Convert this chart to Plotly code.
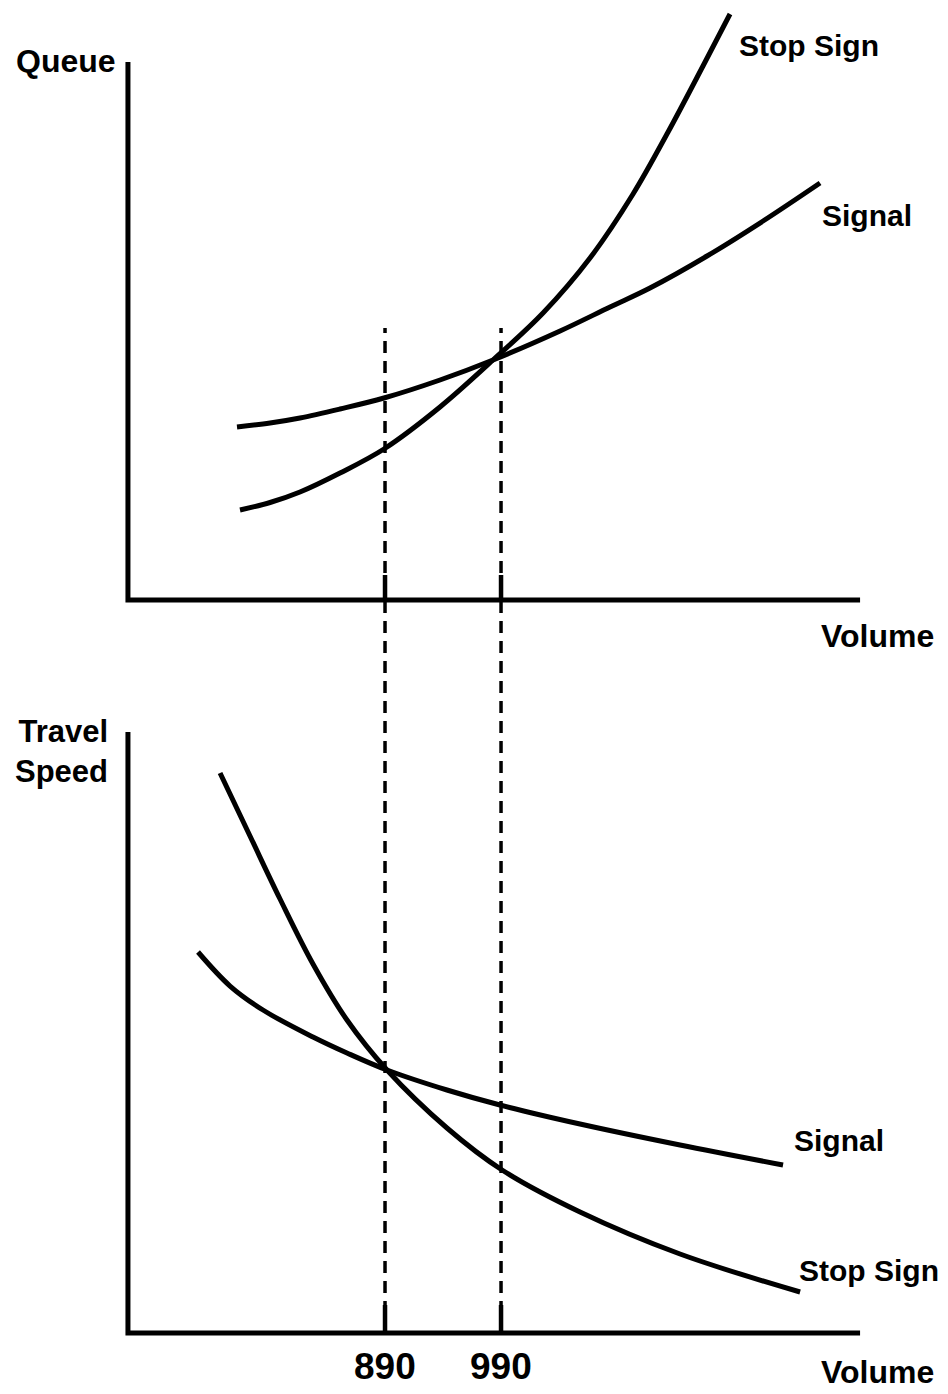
import plotly.graph_objects as go

# ---- data (schematic values) ----
# Top panel: Queue vs Volume
q_stop_vol = [765.0, 790.9, 816.7, 851.2, 889.1, 937.4, 983.1, 1026.2, 1066.7, 1103.8, 1134.0, 1164.1, 1187.4]
q_stop_val = [9.0, 9.75, 10.8, 12.7, 15.1, 19.3, 24.0, 28.7, 34.2, 40.6, 46.8, 53.4, 58.6]
q_sig_vol = [762.4, 790.9, 816.7, 851.2, 889.1, 937.4, 983.1, 1040.9, 1084.0, 1118.4, 1167.6, 1215.9, 1265.0]
q_sig_val = [17.3, 17.7, 18.2, 19.1, 20.2, 22.0, 24.0, 26.9, 29.3, 31.2, 34.4, 37.9, 41.7]

# Bottom panel: Travel speed vs Volume
s_stop_vol = [747.8, 773.6, 799.5, 827.9, 857.2, 891.7, 943.4, 990.9, 1058.1, 1144.3, 1247.8]
s_stop_val = [56.0, 49.7, 43.4, 36.9, 31.3, 26.3, 20.5, 16.3, 12.1, 7.9, 4.1]
s_sig_vol = [728.8, 756.4, 784.8, 827.9, 857.2, 891.7, 943.4, 989.1, 1058.1, 1144.3, 1233.1]
s_sig_val = [38.1, 34.7, 32.3, 29.6, 28.0, 26.3, 24.3, 22.8, 20.9, 18.8, 16.8]

crit_volumes = [890, 990]
crit_labels = ["890", "990"]

# ---- layout constants ----
W, H = 940, 1386          # page body has an 8px margin
X_RANGE = [565.0, 1375.3]
AX_X0, AX_X1 = 668.4, 1299.5
TOP_DOM = [0.51515, 1.0]
BOT_DOM = [0.0, 0.51515]
TOP_RANGE = [-8.0, 59.2]
BOT_RANGE = [-6.1, 65.3]
TOP_AX_TOP = 53.8
BOT_AX_TOP = 60.1
DASH_TOP_Q = 27.2

LINE_W = 5
FONT = "Liberation Sans, Arial, sans-serif"


def to_paper(v, rng, dom):
    return dom[0] + (v - rng[0]) / (rng[1] - rng[0]) * (dom[1] - dom[0])


fig = go.Figure()
line_style = dict(color="black", width=LINE_W, shape="spline", smoothing=1.0)
fig.add_trace(go.Scatter(x=q_stop_vol, y=q_stop_val, mode="lines", line=line_style,
                         xaxis="x", yaxis="y", name="Stop Sign"))
fig.add_trace(go.Scatter(x=q_sig_vol, y=q_sig_val, mode="lines", line=line_style,
                         xaxis="x", yaxis="y", name="Signal"))
fig.add_trace(go.Scatter(x=s_stop_vol, y=s_stop_val, mode="lines", line=line_style,
                         xaxis="x2", yaxis="y2", name="Stop Sign"))
fig.add_trace(go.Scatter(x=s_sig_vol, y=s_sig_val, mode="lines", line=line_style,
                         xaxis="x2", yaxis="y2", name="Signal"))

shapes = []
# axes (L shapes)
shapes.append(dict(type="path", xref="x", yref="y",
                   path=f"M {AX_X0} {TOP_AX_TOP} L {AX_X0} 0 L {AX_X1} 0",
                   line=dict(color="black", width=LINE_W)))
shapes.append(dict(type="path", xref="x2", yref="y2",
                   path=f"M {AX_X0} {BOT_AX_TOP} L {AX_X0} 0 L {AX_X1} 0",
                   line=dict(color="black", width=LINE_W)))

# dashed guide lines spanning both panels
p_top = to_paper(DASH_TOP_Q, TOP_RANGE, TOP_DOM)
p_bot = to_paper(0, BOT_RANGE, BOT_DOM)
for v in crit_volumes:
    shapes.append(dict(type="line", xref="x", yref="paper", x0=v, x1=v, y0=p_bot, y1=p_top,
                       line=dict(color="black", width=3.5, dash="12px,8px")))
    # solid tick segments at each axis
    shapes.append(dict(type="line", xref="x", yref="y", x0=v, x1=v, y0=0, y1=2.5,
                       line=dict(color="black", width=4.5)))
    shapes.append(dict(type="line", xref="x2", yref="y2", x0=v, x1=v, y0=0, y1=2.8,
                       line=dict(color="black", width=4.5)))

ann = []


def F(size):
    return dict(family=FONT, size=size, color="black", weight="bold")


def A(text, x, y, xref, yref, xanchor="left", align="left", size=30):
    ann.append(dict(text=text, x=x, y=y, xref=xref, yref=yref, xanchor=xanchor,
                    yanchor="middle", showarrow=False, align=align, font=F(size)))


A("Queue", 660, 53.9, "x", "y", xanchor="right", size=32)
A("Stop Sign", 1193.4, 55.5, "x", "y")
A("Signal", 1265, 38.5, "x", "y")
A("Volume", 1264.5, -3.6, "x", "y", size=32)
A("Travel<br>Speed", 653, 58.2, "x2", "y2", xanchor="right", align="right", size=31)
A("Signal", 1240.9, 19.3, "x2", "y2")
A("Stop Sign", 1245.2, 6.3, "x2", "y2")
A("Volume", 1264.5, -3.9, "x2", "y2", size=32)
for v, t in zip(crit_volumes, crit_labels):
    A(t, v, -3.3, "x2", "y2", xanchor="center", align="center", size=37)

ax_common = dict(visible=False, showgrid=False, zeroline=False, fixedrange=True)
fig.update_layout(
    width=W, height=H,
    margin=dict(l=0, r=0, t=0, b=0),
    paper_bgcolor="white", plot_bgcolor="rgba(0,0,0,0)",
    showlegend=False,
    xaxis=dict(range=X_RANGE, domain=[0, 1], anchor="y", **ax_common),
    yaxis=dict(range=TOP_RANGE, domain=TOP_DOM, anchor="x", **ax_common),
    xaxis2=dict(range=X_RANGE, domain=[0, 1], anchor="y2", **ax_common),
    yaxis2=dict(range=BOT_RANGE, domain=BOT_DOM, anchor="x2", **ax_common),
    shapes=shapes,
    annotations=ann,
)

fig.write_html("out.html", config={"displayModeBar": False})
